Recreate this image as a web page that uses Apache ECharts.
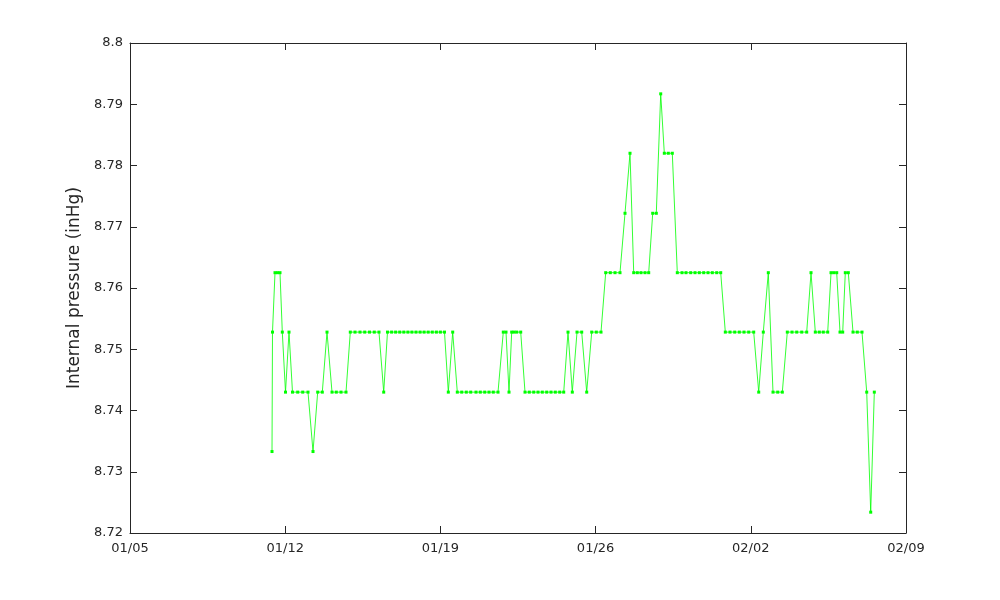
<!DOCTYPE html>
<html>
<head>
<meta charset="utf-8">
<script src="https://cdn.jsdelivr.net/npm/echarts@6/dist/echarts.min.js"></script>
<style>html,body{margin:0;padding:0;background:#fff;}#chart{width:1000px;height:600px;}</style>
</head>
<body>
<div id="chart"></div>
<script>
// Sample times (MM-DD HH:mm, year 2021)
var times = [
'01-11 09:43','01-11 10:15','01-11 12:58','01-11 15:40','01-11 18:22','01-11 20:52','01-12 00:20','01-12 04:07',
'01-12 07:54','01-12 13:32','01-12 18:57','01-13 00:41','01-13 06:06','01-13 11:11','01-13 16:10','01-13 21:15',
'01-14 02:40','01-14 07:19','01-14 12:25','01-14 17:49','01-14 22:28','01-15 03:34','01-15 08:58','01-15 14:04',
'01-15 19:16','01-16 00:27','01-16 05:32','01-16 10:38','01-16 14:44','01-16 19:11','01-16 23:31','01-17 03:57',
'01-17 08:23','01-17 12:49','01-17 17:09','01-17 21:35','01-18 02:02','01-18 06:22','01-18 10:48','01-18 15:14',
'01-18 19:40','01-19 00:00','01-19 04:26','01-19 08:34','01-19 13:19','01-19 18:18','01-19 23:04','01-20 04:02',
'01-20 08:48','01-20 14:32','01-20 19:12','01-20 23:58','01-21 04:37','01-21 09:16','01-21 14:22','01-21 20:05',
'01-21 23:01','01-22 02:16','01-22 05:11','01-22 07:41','01-22 10:36','01-22 14:56','01-22 19:35','01-23 00:14',
'01-23 05:00','01-23 09:40','01-23 14:19','01-23 19:04','01-23 23:44','01-24 04:23','01-24 09:09','01-24 13:29',
'01-24 18:08','01-24 22:47','01-25 03:52','01-25 08:58','01-25 14:22','01-25 19:47','01-26 00:46','01-26 05:51',
'01-26 10:56','01-26 15:55','01-26 21:01','01-27 02:25','01-27 07:50','01-27 13:15','01-27 17:15','01-27 21:09',
'01-28 01:09','01-28 05:29','01-28 09:29','01-28 13:49','01-28 17:43','01-28 22:29','01-29 02:23','01-29 06:43',
'01-29 11:02','01-29 16:27','01-29 21:32','01-30 01:52','01-30 06:57','01-30 11:37','01-30 16:16','01-30 21:01',
'01-31 01:41','01-31 06:20','01-31 11:06','01-31 15:26','01-31 20:25','02-01 01:29','02-01 06:35','02-01 11:34',
'02-01 16:39','02-01 21:44','02-02 03:09','02-02 08:34','02-02 13:32','02-02 18:57','02-03 00:02','02-03 05:08',
'02-03 10:07','02-03 15:31','02-03 20:37','02-04 01:42','02-04 07:07','02-04 12:31','02-04 17:11','02-04 21:50',
'02-05 02:10','02-05 06:29','02-05 11:15','02-05 14:50','02-05 17:45','02-05 21:00','02-06 00:34','02-06 03:29',
'02-06 06:18','02-06 09:33','02-06 14:38','02-06 19:17','02-07 00:23','02-07 05:28','02-07 09:48','02-07 13:42'
];
// Internal pressure (inHg)
var pressure = [
8.7333,8.7528,8.7625,8.7625,8.7625,8.7528,8.7430,8.7528,
8.7430,8.7430,8.7430,8.7430,8.7333,8.7430,8.7430,8.7528,
8.7430,8.7430,8.7430,8.7430,8.7528,8.7528,8.7528,8.7528,
8.7528,8.7528,8.7528,8.7430,8.7528,8.7528,8.7528,8.7528,
8.7528,8.7528,8.7528,8.7528,8.7528,8.7528,8.7528,8.7528,
8.7528,8.7528,8.7528,8.7430,8.7528,8.7430,8.7430,8.7430,
8.7430,8.7430,8.7430,8.7430,8.7430,8.7430,8.7430,8.7528,
8.7528,8.7430,8.7528,8.7528,8.7528,8.7528,8.7430,8.7430,
8.7430,8.7430,8.7430,8.7430,8.7430,8.7430,8.7430,8.7430,
8.7528,8.7430,8.7528,8.7528,8.7430,8.7528,8.7528,8.7528,
8.7625,8.7625,8.7625,8.7625,8.7722,8.7820,8.7625,8.7625,
8.7625,8.7625,8.7625,8.7722,8.7722,8.7917,8.7820,8.7820,
8.7820,8.7625,8.7625,8.7625,8.7625,8.7625,8.7625,8.7625,
8.7625,8.7625,8.7625,8.7625,8.7528,8.7528,8.7528,8.7528,
8.7528,8.7528,8.7528,8.7430,8.7528,8.7625,8.7430,8.7430,
8.7430,8.7528,8.7528,8.7528,8.7528,8.7528,8.7625,8.7528,
8.7528,8.7528,8.7528,8.7625,8.7625,8.7625,8.7528,8.7528,
8.7625,8.7625,8.7528,8.7528,8.7528,8.7430,8.7234,8.7430
];
var year = 2021;
var axisStartLabel = '01-05';
var tickDays = [0, 7, 14, 21, 28, 35];
var yMin = 8.72, yMax = 8.8, yStep = 0.01;

function toMs(s) {
  var p = s.split(' '), md = p[0].split('-'), hm = (p[1] || '00:00').split(':');
  return Date.UTC(year, +md[0] - 1, +md[1], +hm[0], +hm[1]);
}
var t0 = toMs(axisStartLabel + ' 00:00');
var DAY = 86400000;
var data = times.map(function (s, i) { return [(toMs(s) - t0) / DAY, pressure[i]]; });
function fmtDay(v) {
  var d = new Date(t0 + v * DAY);
  var mm = ('0' + (d.getUTCMonth() + 1)).slice(-2), dd = ('0' + d.getUTCDate()).slice(-2);
  return mm + '/' + dd;
}

var axisColor = '#262626';
var font = 'DejaVu Sans';
var chart = echarts.init(document.getElementById('chart'), null, {renderer: 'canvas'});
chart.setOption({
  animation: false,
  backgroundColor: '#ffffff',
  grid: {left: 130, right: 94, top: 43, bottom: 67, containLabel: false},
  xAxis: [{
    type: 'value', min: tickDays[0], max: tickDays[tickDays.length - 1], interval: 7,
    position: 'bottom',
    axisLine: {show: true, onZero: false, lineStyle: {color: axisColor, width: 1}},
    axisTick: {show: true, inside: true, length: 7, lineStyle: {color: axisColor}},
    axisLabel: {color: axisColor, fontSize: 13, fontFamily: font, margin: 9, formatter: fmtDay},
    splitLine: {show: false}
  }, {
    type: 'value', min: tickDays[0], max: tickDays[tickDays.length - 1], interval: 7,
    position: 'top',
    axisLine: {show: true, onZero: false, lineStyle: {color: axisColor, width: 1}},
    axisTick: {show: true, inside: true, length: 7, lineStyle: {color: axisColor}},
    axisLabel: {show: false},
    splitLine: {show: false}
  }],
  yAxis: [{
    type: 'value', min: yMin, max: yMax, interval: yStep,
    position: 'left',
    name: 'Internal pressure (inHg)', nameLocation: 'middle', nameGap: 44,
    nameTextStyle: {color: axisColor, fontSize: 17, fontFamily: font},
    axisLine: {show: true, onZero: false, lineStyle: {color: axisColor, width: 1}},
    axisTick: {show: true, inside: true, length: 7, lineStyle: {color: axisColor}},
    axisLabel: {color: axisColor, fontSize: 13, fontFamily: font, margin: 7,
      formatter: function (v) { return String(+v.toFixed(2)); }},
    splitLine: {show: false}
  }, {
    type: 'value', min: yMin, max: yMax, interval: yStep,
    position: 'right',
    axisLine: {show: true, onZero: false, lineStyle: {color: axisColor, width: 1}},
    axisTick: {show: true, inside: true, length: 7, lineStyle: {color: axisColor}},
    axisLabel: {show: false},
    splitLine: {show: false}
  }],
  series: [{
    type: 'line',
    data: data,
    xAxisIndex: 0, yAxisIndex: 0,
    symbol: 'rect', symbolSize: 3, showSymbol: true,
    itemStyle: {color: '#00ff00'},
    lineStyle: {color: '#00ff00', width: 0.8},
    emphasis: {disabled: true}
  }]
});
</script>
</body>
</html>
